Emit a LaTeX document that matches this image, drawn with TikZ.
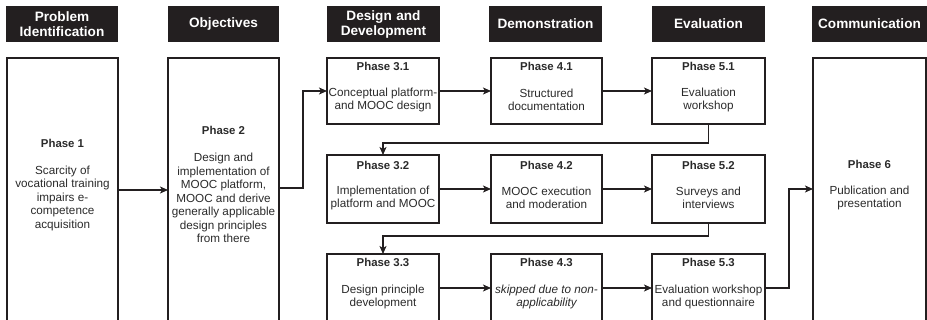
\documentclass[tikz,border=0pt]{standalone}
\usepackage{fontspec}
\setmainfont{Liberation Sans}
\usetikzlibrary{arrows.meta}
\definecolor{ink}{HTML}{231F20}
\definecolor{txt}{HTML}{2A2A2A}
\tikzset{
  hdr/.style={fill=ink, draw=none, text=white, font=\bfseries\fontsize{13.6}{15}\selectfont, align=center, inner sep=0pt, minimum height=36, text width=110},
  box/.style={draw=ink, line width=1.2pt, inner sep=0pt, outer sep=0pt},
  ttl/.style={font=\bfseries\fontsize{11.4}{13.5}\selectfont, text=txt, inner sep=0pt},
  bdy/.style={font=\fontsize{11.7}{13.5}\selectfont, text=txt, align=center, inner sep=0pt},
  arr/.style={draw=ink, line width=1.2pt, -{Stealth[length=8pt,width=7pt,inset=2pt]}},
  ln/.style={draw=ink, line width=1.2pt}
}
\begin{document}
\begin{tikzpicture}[x=1pt,y=-1pt]
\useasboundingbox (0,0) rectangle (927,320);
\clip (0,0) rectangle (927,320);
% headers
\node[hdr, minimum width=112] (h1) at (62,24) {Problem\\Identification};
\node[hdr, minimum width=111] (h2) at (223.5,24) {Objectives};
\node[hdr, minimum width=113] (h3) at (383.5,24) {Design and\\Development};
\node[hdr, minimum width=113] (h4) at (545.5,24) {Demonstration};
\node[hdr, minimum width=113] (h5) at (708.5,24) {Evaluation};
\node[hdr, minimum width=115] (h6) at (869.5,24) {Communication};
% tall boxes
\node[box, minimum width=111, minimum height=272] (p1) at (62.5,194) {};
\node[box, minimum width=111, minimum height=272] (p2) at (223.5,194) {};
\node[box, minimum width=113, minimum height=272] (p6) at (869.5,194) {};
% grid boxes
\node[box, minimum width=112, minimum height=66] (p31) at (383,91) {};
\node[box, minimum width=111, minimum height=66] (p41) at (546.5,91) {};
\node[box, minimum width=113, minimum height=66] (p51) at (708.5,91) {};
\node[box, minimum width=112, minimum height=68] (p32) at (383,189) {};
\node[box, minimum width=111, minimum height=68] (p42) at (546.5,189) {};
\node[box, minimum width=113, minimum height=68] (p52) at (708.5,189) {};
\node[box, minimum width=112, minimum height=68] (p33) at (383,288) {};
\node[box, minimum width=111, minimum height=68] (p43) at (546.5,288) {};
\node[box, minimum width=113, minimum height=68] (p53) at (708.5,288) {};
% texts
\node[ttl] (t1) at (62.5,143) {Phase 1};
\node[bdy] (b1) at (62.5,198) {Scarcity of\\vocational training\\impairs e-\\competence\\acquisition};
\node[ttl] (t2) at (223.5,130) {Phase 2};
\node[bdy] (b2) at (223.5,198) {Design and\\implementation of\\MOOC platform,\\MOOC and derive\\generally applicable\\design principles\\from there};
\node[ttl] (t6) at (869.5,164) {Phase 6};
\node[bdy] (b6) at (869.5,198) {Publication and\\presentation};
\node[ttl] (t31) at (383,66) {Phase 3.1};
\node[bdy] (b31) at (383,100) {Conceptual platform-\\and MOOC design};
\node[ttl] (t41) at (546.5,66) {Phase 4.1};
\node[bdy] (b41) at (546.5,100) {Structured\\documentation};
\node[ttl] (t51) at (708.5,66) {Phase 5.1};
\node[bdy] (b51) at (708.5,100) {Evaluation\\workshop};
\node[ttl] (t32) at (383,165) {Phase 3.2};
\node[bdy] (b32) at (383,198) {Implementation of\\platform and MOOC};
\node[ttl] (t42) at (546.5,165) {Phase 4.2};
\node[bdy] (b42) at (546.5,198) {MOOC execution\\and moderation};
\node[ttl] (t52) at (708.5,165) {Phase 5.2};
\node[bdy] (b52) at (708.5,198) {Surveys and\\interviews};
\node[ttl] (t33) at (383,262) {Phase 3.3};
\node[bdy] (b33) at (383,297) {Design principle\\development};
\node[ttl] (t43) at (546.5,262) {Phase 4.3};
\node[bdy, font=\itshape\fontsize{11.7}{13.5}\selectfont] (b43) at (546.5,297) {skipped due to non-\\applicability};
\node[ttl] (t53) at (708.5,262) {Phase 5.3};
\node[bdy] (b53) at (708.5,297) {Evaluation workshop\\and questionnaire};
% junctions
\coordinate (j1) at (303,91);
\coordinate (j2) at (540,143);
\coordinate (j3) at (540,236);
\coordinate (j4) at (789,240);
% connectors
\draw[arr] ([yshift=4pt]p1.east) -- ([yshift=4pt]p1.east -| p2.west);
\draw[arr] ([yshift=6pt]p2.east) -| (j1) -- (p31.west);
\draw[arr] (p31) -- (p41);
\draw[arr] (p41) -- (p51);
\draw[arr] (p51.south) |- (j2) -| (p32.north);
\draw[arr] (p32) -- (p42);
\draw[arr] (p42) -- (p52);
\draw[arr] (p52.south) |- (j3) -| (p33.north);
\draw[arr] (p33) -- (p43);
\draw[arr] (p43) -- (p53);
\draw[arr] (p53.east) -| (j4) |- ([yshift=5pt]p6.west);
\end{tikzpicture}
\end{document}
